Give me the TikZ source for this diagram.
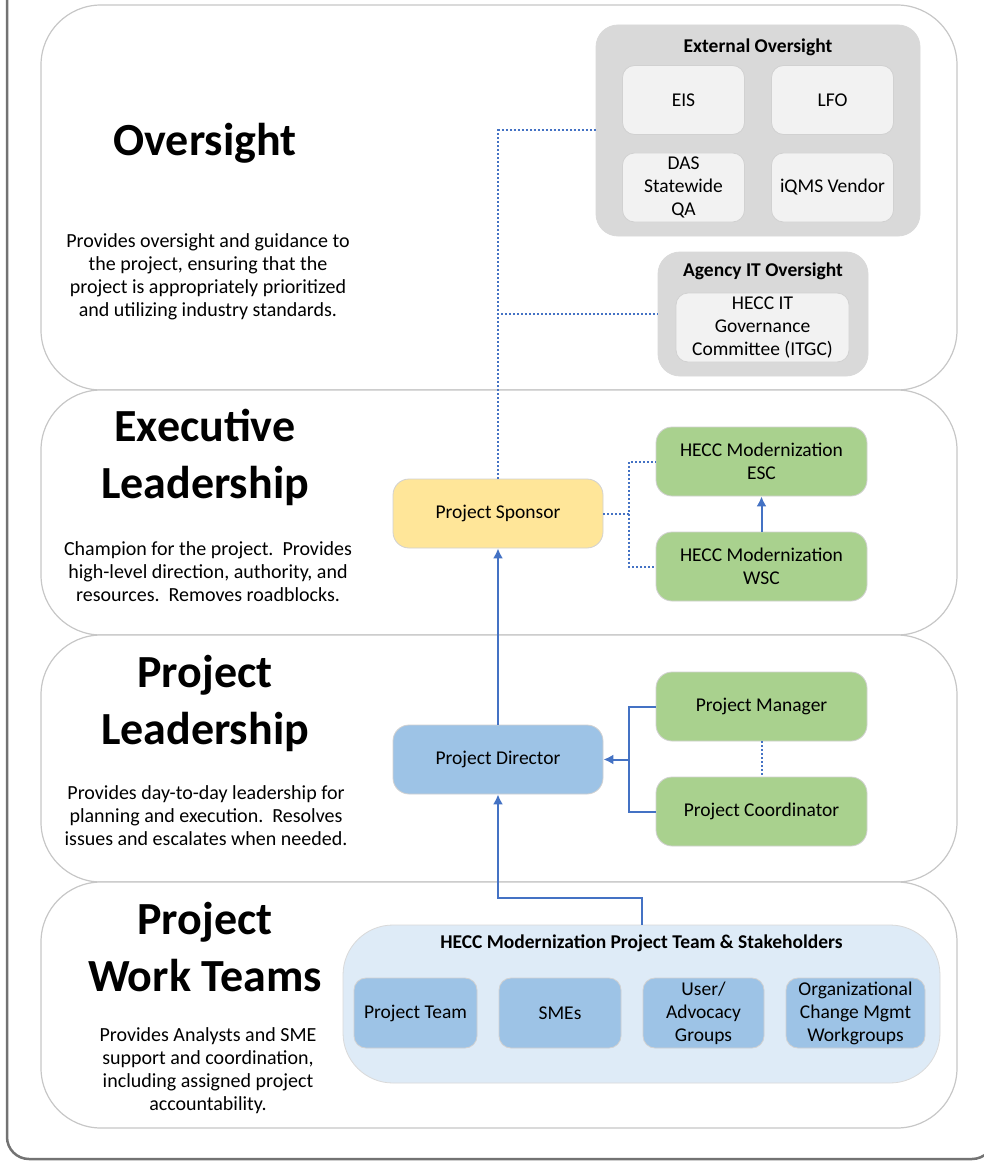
\documentclass[tikz,border=0pt]{standalone}
\usepackage{fontspec}
\setmainfont{Carlito}
\usepackage{tikz}
\usetikzlibrary{positioning, arrows.meta}

\definecolor{lineblue}{HTML}{4472C4}
\definecolor{sponsoryellow}{HTML}{FFE699}
\definecolor{boardgreen}{HTML}{A9D18E}
\definecolor{leadblue}{HTML}{9DC3E6}
\definecolor{teamblue}{HTML}{DEEBF7}
\definecolor{groupgray}{HTML}{D9D9D9}
\definecolor{innergray}{HTML}{F2F2F2}

\begin{document}
\begin{tikzpicture}[
        x=1pt, y=-1pt,
        >={Latex[length=10pt,width=10pt]},
        % Styles
        band/.style={% For the four layers
            rectangle,
            rounded corners=60pt,
            draw=black!22,
            line width=1.2pt,
            fill=white,
            minimum width=916pt,
            },
        title/.style={% For the layer names
            align=center,
            font=\fontsize{46}{57}\selectfont\bfseries,
            },
        blurb/.style={% For the layer descriptions
            align=center,
            font=\fontsize{20}{23}\selectfont,
            },
        group/.style={% For the grouping boxes
            rectangle,
            rounded corners=22pt,
            draw=black!15,
            line width=0.8pt,
            inner sep=0pt,
            },
        role/.style={% For the boxes with people in them
            rectangle,
            rounded corners=16pt,
            draw=black!18,
            line width=0.8pt,
            align=center,
            inner sep=0pt,
            minimum width=210pt,
            minimum height=69pt,
            font=\fontsize{19.5}{23}\selectfont,
            },
        small/.style={% For the boxes inside a group
            role,
            rounded corners=12pt,
            minimum width=122pt,
            },
        grouplabel/.style={% Bold caption of a group
            font=\fontsize{19.5}{22}\selectfont\bfseries,
            },
        ArrowC1/.style={% Solid connectors
            draw=lineblue,
            line width=2pt,
            },
        DotC1/.style={% Dotted connectors
            draw=lineblue,
            line width=2pt,
            dash pattern=on 2pt off 2pt,
            },
        ]

    \useasboundingbox (0,0) rectangle (984,1161);
    \clip (0,0) rectangle (984,1161);

    % Outer frame
    \draw [black!55, line width=2.5pt, rounded corners=22pt] (7,-40) rectangle (994,1159);

    % Layers
        \node [band, minimum height=385pt] (oversight) at (499,197.5) {};
        \node [band, minimum height=245pt] (executive) at (499,512.5) {};
        \node [band, minimum height=247pt] (leadership) at (499,758.5) {};
        \node [band, minimum height=246pt] (workteams) at (499,1005) {};

    % Layer names and descriptions
        \node [title] (t1) at (205,143) {Oversight};
        \node [blurb] (d1) at (208,276.5) {Provides oversight and guidance to\\the project, ensuring that the\\project is appropriately prioritized\\and utilizing industry standards.};

        \node [title] (t2) at (205,457.5) {Executive\\Leadership};
        \node [blurb] (d2) at (208,572) {Champion for the project.\ \ Provides\\high-level direction, authority, and\\resources.\ \ Removes roadblocks.};

        \node [title] (t3) at (205,703) {Project\\Leadership};
        \node [blurb] (d3) at (206,816) {Provides day-to-day leadership for\\planning and execution.\ \ Resolves\\issues and escalates when needed.};

        \node [title] (t4) at (205,947) {Project\\Work Teams};
        \node [blurb] (d4) at (208,1070.5) {Provides Analysts and SME\\support and coordination,\\including assigned project\\accountability.};

    % Oversight groups
        \node [group, fill=groupgray, minimum width=324pt, minimum height=211pt] (extgrp) at (758,130.5) {};
        \node [grouplabel] (extlbl) at (758,47) {External Oversight};
        \node [small, fill=innergray] (eis) at (683.5,100) {EIS};
        \node [small, fill=innergray] (lfo) at (832.5,100) {LFO};
        \node [small, fill=innergray] (das) at (683.5,187.5) {DAS\\Statewide\\QA};
        \node [small, fill=innergray] (iqms) at (832.5,187.5) {iQMS Vendor};

        \node [group, fill=groupgray, minimum width=210pt, minimum height=124pt] (agency) at (763,314) {};
        \node [grouplabel] (agencylbl) at (763,271) {Agency IT Oversight};
        \node [small, fill=innergray, minimum width=173pt] (itgc) at (762.5,327.5) {HECC IT\\Governance\\Committee (ITGC)};

    % Executive and project leadership
        \node [role, fill=sponsoryellow] (sponsor) at (498,513.5) {Project Sponsor};
        \node [role, fill=boardgreen, minimum width=211pt] (esc) at (761.5,461.5) {HECC Modernization\\ESC};
        \node [role, fill=boardgreen, minimum width=211pt] (wsc) at (761.5,566.5) {HECC Modernization\\WSC};

        \node [role, fill=leadblue] (director) at (498,759.5) {Project Director};
        \node [role, fill=boardgreen, minimum width=211pt] (pm) at (761.5,706.5) {Project Manager};
        \node [role, fill=boardgreen, minimum width=211pt] (pc) at (761.5,811.5) {Project Coordinator};

    % Work teams
        \node [group, fill=teamblue, rounded corners=50pt, minimum width=597pt, minimum height=158pt] (teamgrp) at (641.5,1004) {};
        \node [grouplabel] (teamlbl) at (641.5,943) {HECC Modernization Project Team \& Stakeholders};
        \node [small, fill=leadblue, minimum width=123pt, minimum height=70pt] (projteam) at (415.5,1013) {Project Team};
        \node [small, fill=leadblue, minimum height=70pt] (smes) at (560,1013) {SMEs};
        \node [small, fill=leadblue, minimum width=121pt, minimum height=70pt] (advocacy) at (703.5,1013) {User/\\Advocacy\\Groups};
        \node [small, fill=leadblue, minimum width=139pt, minimum height=70pt] (ocm) at (855.5,1013) {Organizational\\Change Mgmt\\Workgroups};

    % Connectors
        % Dotted reporting lines
        \draw [DotC1] (sponsor.north) |- (extgrp.west);
        \draw [DotC1] (sponsor.north) |- (agency.west);
        \draw [DotC1] (sponsor.east) -- ++(26,0) coordinate (sj) |- (esc.west);
        \draw [DotC1] (sj) |- (wsc.west);
        \draw [DotC1] (pm) -- (pc);

        % Solid reporting lines
        \draw [->, ArrowC1] (wsc) -- (esc);
        \draw [->, ArrowC1] (director) -- (sponsor);
        \draw [ArrowC1] (pm.west) -- ++(-27,0) coordinate (pj) |- (pc.west);
        \draw [->, ArrowC1] (pj |- director.east) -- (director.east);
        \draw [->, ArrowC1] (teamgrp.north) -- ++(0,-27) -| (director.south);

\end{tikzpicture}
\end{document}
